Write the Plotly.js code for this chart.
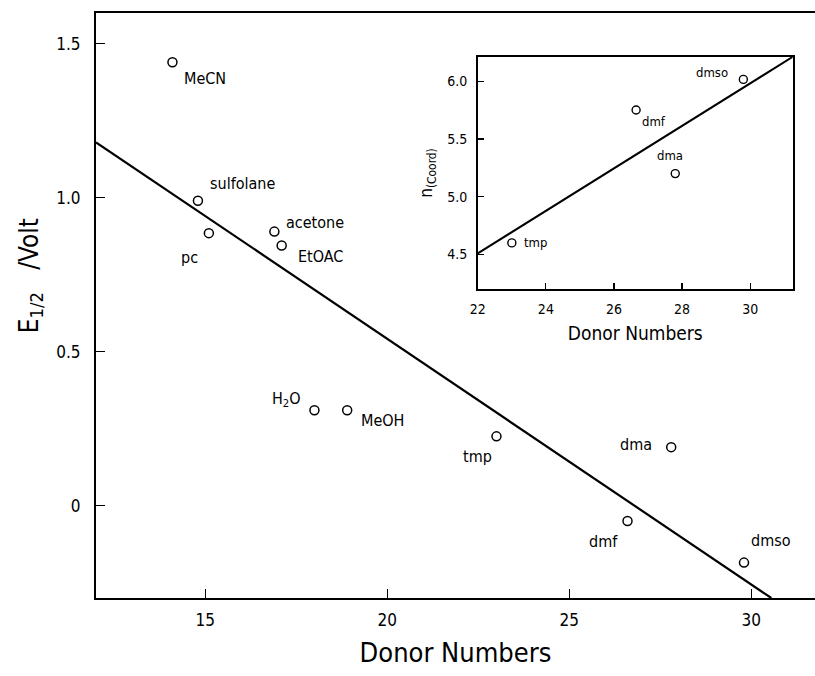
<!DOCTYPE html>
<html>
<head>
<meta charset="utf-8">
<script src="https://cdn.plot.ly/plotly-3.0.1.min.js"></script>
<style>html,body{margin:0;padding:0;background:#fff;}#chart{width:815px;height:676px;}</style>
</head>
<body>
<div id="chart"></div>
<script>
// Main panel data
const solvents = ["MeCN","sulfolane","pc","acetone","EtOAC","H<sub>2</sub>O","MeOH","tmp","dma","dmf","dmso"];
const donorNumbers = [14.1, 14.8, 15.1, 16.9, 17.1, 18.0, 18.9, 23.0, 27.8, 26.6, 29.8];
const e12Volt = [1.44, 0.99, 0.885, 0.89, 0.845, 0.31, 0.31, 0.225, 0.19, -0.05, -0.185];
const fitX = [12, 30.55];
const fitY = [1.18, -0.30];
const xTickVals = [15, 20, 25, 30];
const yTickVals = [0, 0.5, 1.0, 1.5];
const yTickText = ["0", "0.5", "1.0", "1.5"];

// Inset data
const insetSolvents = ["tmp","dmf","dma","dmso"];
const insetDonor = [23.0, 26.65, 27.8, 29.8];
const insetCoord = [4.60, 5.75, 5.20, 6.015];
const insetFitX = [22, 31.25];
const insetFitY = [4.51, 6.21];
const insetXTicks = [22, 24, 26, 28, 30];
const insetYTicks = [4.5, 5.0, 5.5, 6.0];
const insetYText = ["4.5", "5.0", "5.5", "6.0"];

// Label placement (pixel offsets, styling only)
const mainLabelStyle = [
  {xa:"left", dx:10, dy:-16}, {xa:"left", dx:10, dy:17}, {xa:"right", dx:-9, dy:-24},
  {xa:"left", dx:10, dy:9}, {xa:"left", dx:14, dy:-11}, {xa:"right", dx:-11, dy:11},
  {xa:"left", dx:12, dy:-10}, {xa:"right", dx:-2, dy:-20}, {xa:"right", dx:-17, dy:3},
  {xa:"right", dx:-8, dy:-20}, {xa:"left", dx:5, dy:22}
];
const insetLabelStyle = [
  {xa:"left", dx:10, dy:0}, {xa:"left", dx:4, dy:-11}, {xa:"center", dx:-5, dy:18}, {xa:"right", dx:-13, dy:7}
];

const FONT = "'DejaVu Sans Condensed', 'DejaVu Sans', sans-serif";

const traces = [
  {x: fitX, y: fitY, mode: "lines", line: {color: "#000", width: 2.2}, xaxis: "x", yaxis: "y", hoverinfo: "skip"},
  {x: donorNumbers, y: e12Volt, mode: "markers", marker: {symbol: "circle-open", size: 9, color: "#000", line: {width: 1.5, color: "#000"}}, xaxis: "x", yaxis: "y", text: solvents},
  {x: insetFitX, y: insetFitY, mode: "lines", line: {color: "#000", width: 2}, xaxis: "x2", yaxis: "y2", hoverinfo: "skip"},
  {x: insetDonor, y: insetCoord, mode: "markers", marker: {symbol: "circle-open", size: 8, color: "#000", line: {width: 1.4, color: "#000"}}, xaxis: "x2", yaxis: "y2", text: insetSolvents}
];

const annotations = [];
solvents.forEach((s, i) => {
  const st = mainLabelStyle[i];
  annotations.push({x: donorNumbers[i], y: e12Volt[i], xref: "x", yref: "y", text: s, showarrow: false,
    xanchor: st.xa, yanchor: "middle", xshift: st.dx, yshift: st.dy, font: {family: FONT, size: 16, color: "#000"}});
});
insetSolvents.forEach((s, i) => {
  const st = insetLabelStyle[i];
  annotations.push({x: insetDonor[i], y: insetCoord[i], xref: "x2", yref: "y2", text: s, showarrow: false,
    xanchor: st.xa, yanchor: "middle", xshift: st.dx, yshift: st.dy, font: {family: FONT, size: 13, color: "#000"}});
});
// Main y-axis title, placed like the reference (left of the axis, above centre)
annotations.push({xref: "paper", yref: "paper", x: 0, y: 0.55, xshift: -66, xanchor: "center", yanchor: "middle",
  textangle: -90, showarrow: false, text: "E<sub>1/2</sub>   /Volt", font: {family: FONT, size: 26, color: "#000"}});

const layout = {
  width: 815, height: 676,
  margin: {l: 96, r: 0, t: 13, b: 78},
  paper_bgcolor: "#fff", plot_bgcolor: "#fff",
  showlegend: false,
  font: {family: FONT, color: "#000"},
  xaxis: {
    range: [12, 31.75], domain: [0, 1], anchor: "y",
    tickvals: xTickVals, ticks: "inside", ticklen: 9, tickwidth: 1.3, tickcolor: "#000",
    showline: true, linecolor: "#000", linewidth: 2, mirror: true, showgrid: false, zeroline: false,
    tickfont: {family: FONT, size: 17}, ticklabelstandoff: 6,
    title: {text: "Donor Numbers", font: {family: FONT, size: 27}, standoff: 14}
  },
  yaxis: {
    range: [-0.3, 1.6], domain: [0, 1], anchor: "x",
    tickvals: yTickVals, ticktext: yTickText,
    ticks: "inside", ticklen: 9, tickwidth: 1.3, tickcolor: "#000",
    showline: true, linecolor: "#000", linewidth: 2, mirror: false, showgrid: false, zeroline: false,
    tickfont: {family: FONT, size: 17}, ticklabelstandoff: 10
  },
  xaxis2: {
    range: [22, 31.25], domain: [0.531, 0.969], anchor: "y2",
    tickvals: insetXTicks, ticks: "inside", ticklen: 6, tickwidth: 1.2, tickcolor: "#000",
    showline: true, linecolor: "#000", linewidth: 1.8, mirror: true, showgrid: false, zeroline: false,
    tickfont: {family: FONT, size: 14}, ticklabelstandoff: 6,
    title: {text: "Donor Numbers", font: {family: FONT, size: 19}, standoff: 11}
  },
  yaxis2: {
    range: [4.2, 6.21], domain: [0.528, 0.925], anchor: "x2",
    tickvals: insetYTicks, ticktext: insetYText,
    ticks: "inside", ticklen: 6, tickwidth: 1.2, tickcolor: "#000",
    showline: true, linecolor: "#000", linewidth: 1.8, mirror: true, showgrid: false, zeroline: false,
    tickfont: {family: FONT, size: 14}, ticklabelstandoff: 6,
    title: {text: "n<sub>(Coord)</sub>", font: {family: FONT, size: 17}, standoff: 10}
  },
  annotations: annotations
};

Plotly.newPlot("chart", traces, layout, {displayModeBar: false, staticPlot: true});
</script>
</body>
</html>
